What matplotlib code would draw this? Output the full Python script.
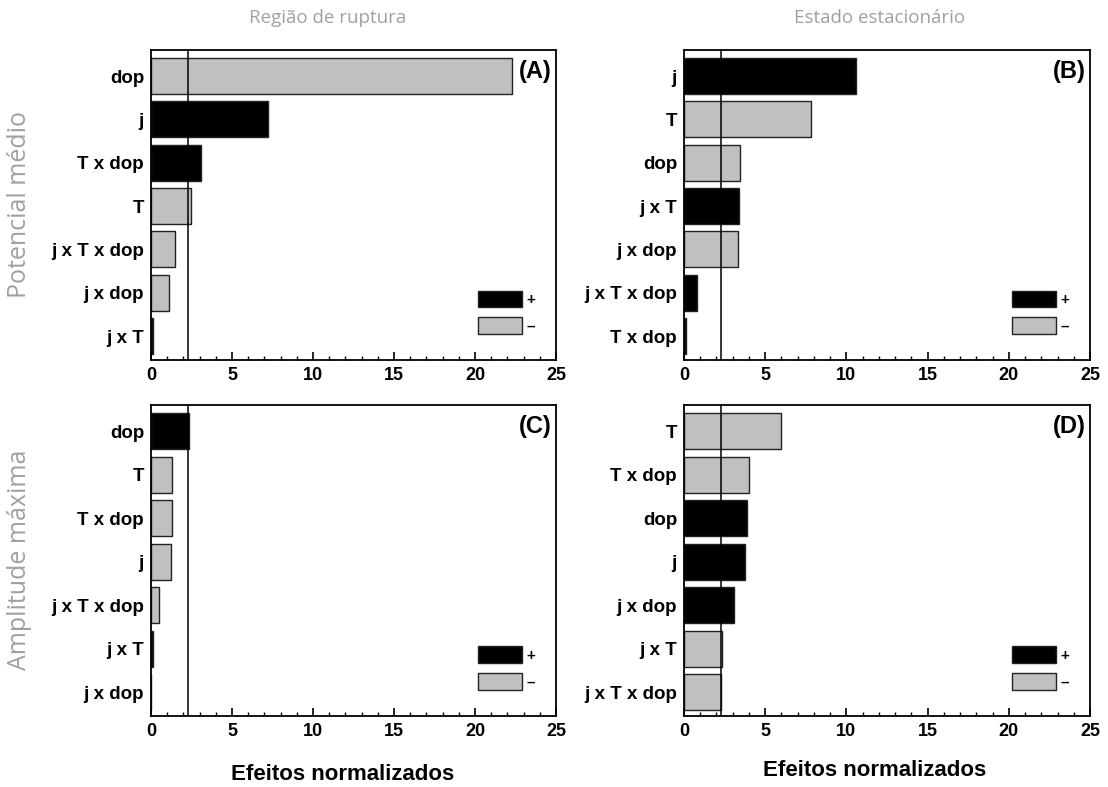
import matplotlib
matplotlib.use('Agg')
import matplotlib.pyplot as plt
from matplotlib.patches import Patch
from matplotlib.ticker import MultipleLocator
import numpy as np

plt.rcParams.update({
    'font.family': ['Liberation Sans', 'DejaVu Sans'],
    'font.weight': 'bold',
})

# Data (top to bottom), sign: 1 = positive (black), -1 = negative (gray)
labels_a = ['dop', 'j', 'T x dop', 'T', 'j x T x dop', 'j x dop', 'j x T']
values_a = [22.3, 7.2, 3.1, 2.45, 1.5, 1.1, 0.1]
signs_a = [-1, 1, 1, -1, -1, -1, 1]

labels_b = ['j', 'T', 'dop', 'j x T', 'j x dop', 'j x T x dop', 'T x dop']
values_b = [10.6, 7.8, 3.45, 3.38, 3.3, 0.78, 0.13]
signs_b = [1, -1, -1, 1, -1, 1, 1]

labels_c = ['dop', 'T', 'T x dop', 'j', 'j x T x dop', 'j x T', 'j x dop']
values_c = [2.35, 1.32, 1.28, 1.22, 0.5, 0.1, 0.02]
signs_c = [1, -1, -1, -1, -1, 1, 1]

labels_d = ['T', 'T x dop', 'dop', 'j', 'j x dop', 'j x T', 'j x T x dop']
values_d = [6.0, 4.0, 3.9, 3.75, 3.1, 2.37, 2.27]
signs_d = [-1, -1, 1, 1, 1, -1, -1]

ref_line = 2.3
panel_tags = ['(A)', '(B)', '(C)', '(D)']
col_titles = ['Região de ruptura', 'Estado estacionário']
row_titles = ['Potencial médio', 'Amplitude máxima']

POS = 'black'
NEG = '#c0c0c0'
GRAYTXT = '#a0a0a0'

W, H = 1108, 787
fig = plt.figure(figsize=(W / 100, H / 100), dpi=100)

def px_axes(left, top, right, bottom):
    return fig.add_axes([left / W, 1 - bottom / H, (right - left) / W, (bottom - top) / H])

boxes = [(151, 50, 556, 360), (684, 50, 1090, 360),
         (151, 405, 556, 716), (684, 405, 1090, 716)]
datasets = [(labels_a, values_a, signs_a), (labels_b, values_b, signs_b),
            (labels_c, values_c, signs_c), (labels_d, values_d, signs_d)]

for box, (labs, vals, sg), tag in zip(boxes, datasets, panel_tags):
    ax = px_axes(*box)
    y = np.arange(len(labs))
    colors = [POS if s > 0 else NEG for s in sg]
    ax.barh(y, vals, height=0.83, color=colors, edgecolor='#222222', linewidth=1.0, zorder=2)
    ax.axvline(ref_line, color='black', lw=1.1, zorder=3)
    ax.set_xlim(0, 25)
    ax.set_ylim(len(labs) - 0.45, -0.6)
    ax.set_yticks(y)
    ax.set_yticklabels(labs, fontsize=13.5, fontweight='bold')
    ax.tick_params(axis='y', length=0, pad=5)
    ax.xaxis.set_major_locator(MultipleLocator(5))
    ax.xaxis.set_minor_locator(MultipleLocator(1))
    ax.tick_params(axis='x', which='major', direction='in', length=6, width=1.2,
                   labelsize=13, pad=5)
    ax.tick_params(axis='x', which='minor', direction='in', length=3, width=1)
    for lbl in ax.get_xticklabels():
        lbl.set_fontweight('bold')
    for sp in ax.spines.values():
        sp.set_linewidth(1.3)
    ax.text(0.99, 0.93, tag, transform=ax.transAxes, ha='right', va='center',
            fontsize=17, fontweight='bold')
    handles = [Patch(facecolor=POS, edgecolor='#222222'),
               Patch(facecolor=NEG, edgecolor='#222222')]
    ax.legend(handles, ['+', '\u2013'], loc='lower right', frameon=False,
              handlelength=2.9, handleheight=1.3, labelspacing=0.65,
              handletextpad=0.3, borderaxespad=0.0,
              bbox_to_anchor=(0.965, 0.065), prop={'weight': 'bold', 'size': 11})

# column titles
for x, t in zip([328, 880], col_titles):
    fig.text(x / W, 1 - 18 / H, t, ha='center', va='center', fontsize=13.5,
             color=GRAYTXT, family='Open Sans', fontweight='normal')

# row titles
for yc, t in zip([205, 560], row_titles):
    fig.text(20 / W, 1 - yc / H, t, ha='center', va='center', rotation=90,
             fontsize=18, color=GRAYTXT, family='Open Sans', fontweight='normal')

# x labels
fig.text(343 / W, 1 - 775 / H, 'Efeitos normalizados', ha='center', va='center',
         fontsize=16, fontweight='bold')
fig.text(875 / W, 1 - 770 / H, 'Efeitos normalizados', ha='center', va='center',
         fontsize=16, fontweight='bold')

fig.savefig('out.png', dpi=100)
